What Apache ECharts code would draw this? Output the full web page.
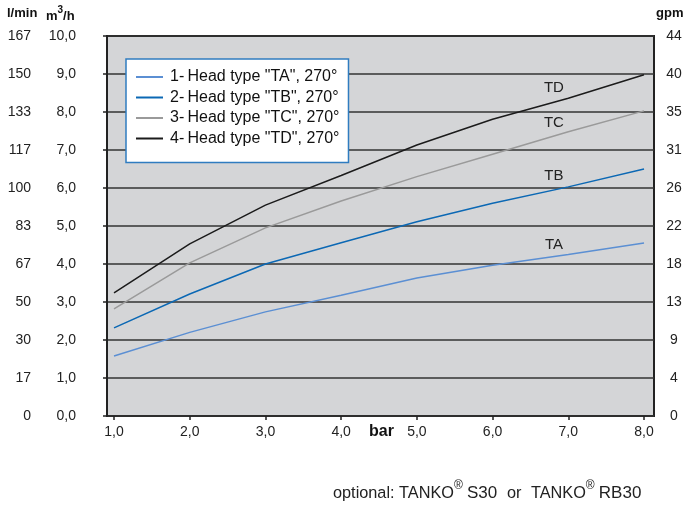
<!DOCTYPE html>
<html>
<head>
<meta charset="utf-8">
<script src="https://cdn.jsdelivr.net/npm/echarts@6/dist/echarts.min.js"></script>
<style>
  html, body { margin: 0; padding: 0; background: #fff; }
  #chart { width: 688px; height: 507px; }
</style>
</head>
<body>
<div id="chart"></div>
<script>
// pressure in bar
var pressure = [1, 2, 3, 4, 5, 6, 7, 8];
// flow in m3/h
var flowTA = [1.58, 2.20, 2.74, 3.18, 3.63, 3.97, 4.25, 4.55];
var flowTB = [2.32, 3.21, 4.00, 4.56, 5.11, 5.60, 6.03, 6.50];
var flowTC = [2.82, 4.03, 4.95, 5.66, 6.30, 6.89, 7.48, 8.03];
var flowTD = [3.24, 4.53, 5.55, 6.33, 7.13, 7.81, 8.36, 8.98];

var seriesNames = [
  '1-\u2009Head type "TA", 270°',
  '2-\u2009Head type "TB", 270°',
  '3-\u2009Head type "TC", 270°',
  '4-\u2009Head type "TD", 270°'
];
var seriesColors = ['#5b8fd3', '#0b68b4', '#9a9a9a', '#1b1b1b'];

// secondary scales, one label per m3/h grid line (0..10)
var lminLabels = ['0', '17', '30', '50', '67', '83', '100', '117', '133', '150', '167'];
var gpmLabels = ['0', '4', '9', '13', '18', '22', '26', '31', '35', '40', '44'];

// curve tags: [text, bar, m3/h]
var curveTags = [
  ['TA', 6.81, 4.50],
  ['TB', 6.81, 6.32],
  ['TC', 6.81, 7.71],
  ['TD', 6.81, 8.63]
];

function pairs(ys) {
  var out = [];
  for (var i = 0; i < pressure.length; i++) out.push([pressure[i], ys[i]]);
  return out;
}
function comma(v) { return v.toFixed(1).replace('.', ','); }

var flows = [flowTA, flowTB, flowTC, flowTD];
var font = 'Liberation Sans, Arial, sans-serif';

var series = [];
for (var s = 0; s < 4; s++) {
  series.push({
    name: seriesNames[s],
    type: 'line',
    data: pairs(flows[s]),
    symbol: 'none',
    smooth: false,
    lineStyle: { width: 1.5, color: seriesColors[s] },
    itemStyle: { color: seriesColors[s] },
    z: 3,
    markPoint: {
      symbol: 'circle',
      symbolSize: 0,
      label: {
        show: true, position: 'inside', formatter: '{b}',
        color: '#222', fontSize: 15, fontFamily: font
      },
      data: [{ name: curveTags[s][0], coord: [curveTags[s][1], curveTags[s][2]] }]
    }
  });
}

var chart = echarts.init(document.getElementById('chart'));
chart.setOption({
  backgroundColor: '#fff',
  animation: false,
  textStyle: { fontFamily: font },
  grid: {
    left: 107, right: 34, top: 36, bottom: 91,
    show: true, backgroundColor: '#d4d5d7',
    borderColor: '#222', borderWidth: 2
  },
  legend: {
    orient: 'vertical',
    left: 126, top: 59,
    backgroundColor: '#fff',
    borderColor: '#2f7cc0', borderWidth: 1.5,
    padding: [10, 9, 16, 10],
    itemGap: 4.5,
    itemWidth: 27, itemHeight: 2,
    icon: 'rect',
    textStyle: { fontSize: 16, color: '#111', fontFamily: font, padding: [0, 0, 0, 2] },
    data: seriesNames
  },
  xAxis: {
    type: 'value',
    min: 0.9075, max: 8.132,
    axisLine: { show: false },
    axisTick: {
      show: true, length: 4, inside: false,
      customValues: pressure,
      lineStyle: { color: '#222', width: 1.5 }
    },
    splitLine: { show: false },
    axisLabel: {
      customValues: pressure,
      margin: 9, fontSize: 14, color: '#222',
      formatter: function (v) { return comma(v); }
    }
  },
  yAxis: [
    {
      type: 'value', min: 0, max: 10, interval: 1,
      position: 'left',
      axisLine: { show: true, lineStyle: { color: '#222', width: 2 } },
      axisTick: { show: true, length: 4, lineStyle: { color: '#222', width: 1.5 } },
      splitLine: { show: true, lineStyle: { color: '#333', width: 1.5 } },
      axisLabel: {
        margin: 31, align: 'right',
        formatter: function (v) {
          var i = Math.round(v);
          return '{a|' + lminLabels[i] + '}{b|' + comma(v) + '}';
        },
        rich: {
          a: { width: 31, align: 'right', fontSize: 14, color: '#222', fontFamily: font },
          b: { width: 45, align: 'right', fontSize: 14, color: '#222', fontFamily: font }
        }
      }
    },
    {
      type: 'value', min: 0, max: 10, interval: 1,
      position: 'right',
      axisLine: { show: false },
      axisTick: { show: false },
      splitLine: { show: false },
      axisLabel: {
        margin: 5, align: 'left',
        formatter: function (v) { return '{c|' + gpmLabels[Math.round(v)] + '}'; },
        rich: {
          c: { width: 30, align: 'center', fontSize: 14, color: '#222', fontFamily: font }
        }
      }
    }
  ],
  graphic: [
    {
      type: 'text', left: 7, top: 7,
      style: { text: 'l/min', font: 'bold 13px ' + font, fill: '#111' }
    },
    {
      type: 'text', left: 46, top: 5,
      style: {
        text: '{m|m}{s|3}{m|/h}',
        rich: {
          m: { font: 'bold 13px ' + font, fill: '#111', verticalAlign: 'bottom', lineHeight: 18 },
          s: { font: 'bold 10px ' + font, fill: '#111', verticalAlign: 'top', lineHeight: 18 }
        }
      }
    },
    {
      type: 'text', left: 656, top: 7,
      style: { text: 'gpm', font: 'bold 13px ' + font, fill: '#111' }
    },
    {
      type: 'text', left: 369, top: 424,
      style: { text: 'bar', font: 'bold 16px ' + font, fill: '#111' }
    },
    {
      type: 'text', left: 333, top: 480,
      style: {
        text: '{n|optional: TANKO}{s|®}{d|S30}{o|or}{n|TANKO}{s|®}{e|RB30}',
        rich: {
          n: { font: '16.3px ' + font, fill: '#222', verticalAlign: 'bottom', lineHeight: 22 },
          s: { font: '12px ' + font, fill: '#222', verticalAlign: 'top', lineHeight: 22, width: 13, align: 'left' },
          d: { font: '17px ' + font, fill: '#222', verticalAlign: 'bottom', lineHeight: 22, width: 40, align: 'left' },
          o: { font: '16.3px ' + font, fill: '#222', verticalAlign: 'bottom', lineHeight: 22, width: 24, align: 'left' },
          e: { font: '17px ' + font, fill: '#222', verticalAlign: 'bottom', lineHeight: 22, width: 46, align: 'left' }
        }
      }
    }
  ],
  series: series
});
</script>
</body>
</html>
